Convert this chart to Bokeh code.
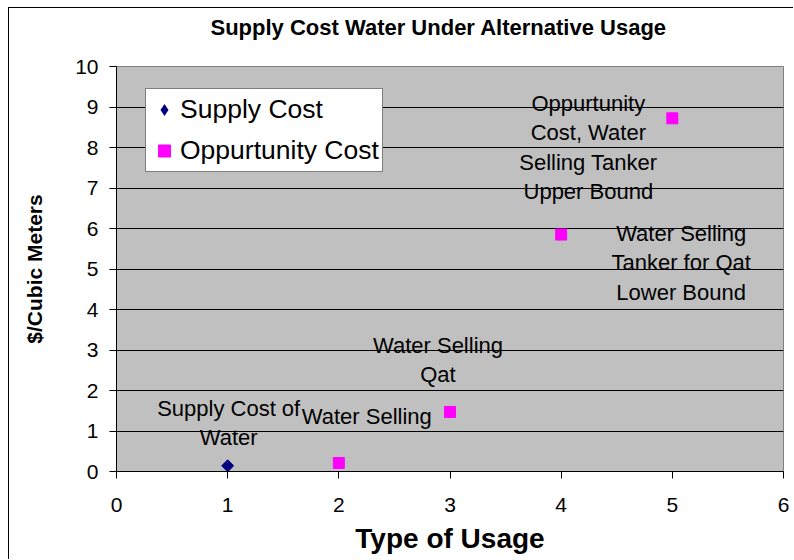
import math
from bokeh.plotting import figure
from bokeh.models import FixedTicker, Legend, LegendItem, ColumnDataSource, Range1d, Title
from bokeh.core.properties import value
from bokeh.embed import file_html
from bokeh.resources import INLINE

# ---- data ----
title_text = "Supply Cost Water Under Alternative Usage"
x_label = "Type of Usage"
y_label = "$/Cubic Meters"
series_names = ["Supply Cost", "Oppurtunity Cost"]
supply_x = [1]
supply_y = [0.14]
opp_x = [2, 3, 4, 5]
opp_y = [0.21, 1.47, 5.85, 8.72]
point_labels = [
    "Supply Cost of\nWater",
    "Water Selling",
    "Water Selling\nQat",
    "Water Selling\nTanker for Qat\nLower Bound",
    "Oppurtunity\nCost, Water\nSelling Tanker\nUpper Bound",
]
x_ticks = [0, 1, 2, 3, 4, 5, 6]
y_ticks = [0, 1, 2, 3, 4, 5, 6, 7, 8, 9, 10]
grid_ticks = [1, 2, 3, 4, 5, 6, 7, 8, 9]

# label placement (pixel offsets from each point)
label_dx = [1, 28, -12, 120, -84]
label_dy = [-43, -46, -52, 28, 29]

FONT = "Liberation Sans"

p = figure(width=785, height=552, output_backend="svg", toolbar_location=None,
           x_range=Range1d(0, 6), y_range=Range1d(0, 10),
           min_border_left=107, min_border_right=11, min_border_top=58, min_border_bottom=89,
           background_fill_color="#C0C0C0", border_fill_color="white")
p.styles = {"margin-left": "8px", "margin-top": "7px",
            "border-left": "1px solid black", "border-top": "1px solid black"}

p.title.text = ""
# spacer between plot area and the title (nearest the plot area)
p.add_layout(Title(text=" ", text_font_size="1px", standoff=24), "above")
# the chart title (outermost)
p.add_layout(Title(text=title_text, align="left", vertical_align="bottom", offset=94,
                   standoff=0, text_color="black", text_font=FONT,
                   text_font_size="22px", text_font_style="bold"), "above")

p.outline_line_color = "#808080"
p.outline_line_width = 1

p.xgrid.visible = False
p.ygrid.ticker = FixedTicker(ticks=grid_ticks)
p.ygrid.grid_line_color = "black"
p.ygrid.grid_line_width = 1

for ax in (p.xaxis[0], p.yaxis[0]):
    ax.axis_line_color = "black"
    ax.major_tick_line_color = "black"
    ax.major_tick_in = 0
    ax.major_tick_out = 7
    ax.minor_tick_line_color = None
    ax.major_label_text_font = FONT
    ax.major_label_text_font_size = "21px"
    ax.major_label_text_color = "black"
    ax.axis_label_text_font = FONT
    ax.axis_label_text_font_style = "bold"
    ax.axis_label_text_color = "black"

p.xaxis[0].ticker = FixedTicker(ticks=x_ticks)
p.yaxis[0].ticker = FixedTicker(ticks=y_ticks)
p.xaxis[0].axis_label = x_label
p.yaxis[0].axis_label = y_label
p.xaxis[0].axis_label_text_font_size = "28px"
p.yaxis[0].axis_label_text_font_size = "21px"
p.xaxis[0].major_label_standoff = 19
p.xaxis[0].axis_label_standoff = 8
p.yaxis[0].major_label_standoff = 11
p.yaxis[0].axis_label_standoff = 26

# points (rotated squares render as the diamond markers of the original)
r1 = p.scatter(supply_x, supply_y, marker="square", size=8.5, angle=math.pi / 4,
               fill_color="#000080", line_color="#000080")
r2 = p.scatter(opp_x, opp_y, marker="square", size=11,
               fill_color="#FF00FF", line_color="#FF00FF")
# diamond key for the legend (drawn at zero size on the plot itself)
r1_key = p.scatter(supply_x, supply_y, marker="diamond", size=0,
                   fill_color="#000080", line_color="#000080", line_width=0)

lab_src = ColumnDataSource(dict(
    x=supply_x + opp_x, y=supply_y + opp_y, text=point_labels,
    dx=label_dx, dy=label_dy))
p.text(x="x", y="y", text="text", x_offset="dx", y_offset="dy", source=lab_src,
       text_font=value(FONT), text_font_size="22px", text_color="black",
       text_align="center", text_baseline="middle", text_line_height=1.18)

legend = Legend(items=[LegendItem(label=series_names[0], renderers=[r1_key]),
                       LegendItem(label=series_names[1], renderers=[r2])],
                location=(29, 299))
legend.label_text_font = FONT
legend.label_text_font_size = "26.5px"
legend.label_text_color = "black"
legend.border_line_color = "black"
legend.border_line_width = 1
legend.background_fill_color = "white"
legend.background_fill_alpha = 1
legend.padding = 3
legend.spacing = 6
legend.glyph_width = 30
legend.glyph_height = 35
legend.label_height = 35
legend.label_standoff = 1
legend.margin = 0
p.add_layout(legend)

open("out.html", "w").write(file_html(p, INLINE))
